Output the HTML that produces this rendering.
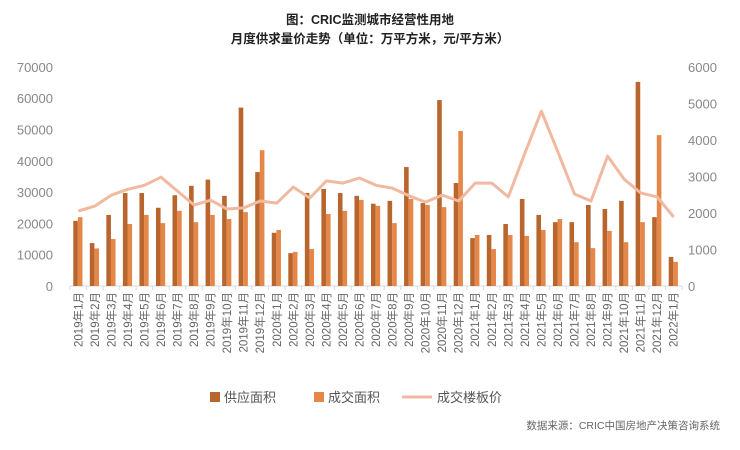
<!DOCTYPE html>
<html><head><meta charset="utf-8"><style>
body{margin:0;background:#fff;}
svg text{font-family:"Liberation Sans","Noto Sans CJK SC",sans-serif;}
</style></head><body>
<svg width="740" height="445" xmlns="http://www.w3.org/2000/svg" id="s">
<text x="370" y="24" text-anchor="middle" font-size="12.5" font-weight="bold" fill="#222">图：CRIC监测城市经营性用地</text>
<text x="370" y="43" text-anchor="middle" font-size="12.5" font-weight="bold" fill="#222">月度供求量价走势（单位：万平方米，元/平方米）</text>
<g id="g"></g>
<g font-size="13">
<rect x="210" y="392" width="10" height="10" fill="#b8652e"/><text x="224" y="402" fill="#555">供应面积</text>
<rect x="314" y="392" width="10" height="10" fill="#e6874a"/><text x="328" y="402" fill="#555">成交面积</text>
<line x1="402" y1="397" x2="432" y2="397" stroke="#f0b9a0" stroke-width="3"/><text x="437" y="402" fill="#555">成交楼板价</text>
</g>
<text x="720" y="429" text-anchor="end" font-size="10.5" fill="#666">数据来源：CRIC中国房地产决策咨询系统</text>
</svg>
<script>
const S=[20.8,13.7,22.7,29.7,29.7,25,29,32,34,28.8,57,36.4,17,10.5,29.7,31,29.7,28.8,26.3,27.2,38,26.5,59.4,32.9,15.3,16.3,19.8,27.8,22.7,20.4,20.4,25.9,24.6,27.2,65.2,22,9.3];
const C=[22,12,15,19.8,22.7,20.1,24,20.4,22.7,21.4,23.6,43.4,17.9,10.9,11.8,23,24,27.5,25.6,20.1,27.8,25.9,25.2,49.5,16.3,11.8,16.3,16,17.9,21.4,14,12.1,17.6,14,20.4,48.2,7.7];
const P=[2055,2190,2490,2650,2760,2980,2600,2220,2350,2110,2140,2330,2270,2710,2410,2880,2820,2960,2760,2680,2470,2300,2490,2330,2820,2820,2440,3640,4790,3670,2520,2330,3560,2930,2550,2440,1890];
let h='';const x0=70,w=612/37,b=286,k=31.3/10,kp=36.5/1000;
for(let i=0;i<=7;i++){const y=b-i*31.3;h+=`<text x="53" y="${y+5}" text-anchor="end" font-size="13" fill="#888">${i*10000}</text>`;}
for(let i=0;i<=6;i++){const y=b-i*36.5;h+=`<text x="688" y="${y+5}" font-size="13" fill="#888">${i*1000}</text>`;}
h+=`<line x1="${x0}" y1="${b}" x2="${x0+612}" y2="${b}" stroke="#d9d9d9"/>`;
let pts=[];
for(let i=0;i<37;i++){const cx=x0+w*(i+0.5);
h+=`<line x1="${x0+w*i}" y1="${b}" x2="${x0+w*i}" y2="${b+4}" stroke="#d9d9d9"/>`;
h+=`<rect x="${cx-5}" y="${b-S[i]*k}" width="4.6" height="${S[i]*k}" fill="#b8652e"/>`;
h+=`<rect x="${cx-0.4}" y="${b-C[i]*k}" width="4.6" height="${C[i]*k}" fill="#e6874a"/>`;
pts.push(cx.toFixed(1)+','+(b-P[i]*kp).toFixed(1));
const yr=2019+Math.floor(i/12),m=i%12+1;
h+=`<text transform="translate(${cx+4},292) rotate(-90)" text-anchor="end" font-size="11.5" fill="#666">${yr}年${m}月</text>`;}
h+=`<line x1="${x0+612}" y1="${b}" x2="${x0+612}" y2="${b+4}" stroke="#d9d9d9"/>`;
h+=`<polyline points="${pts.join(' ')}" fill="none" stroke="#f0b9a0" stroke-width="3" stroke-linejoin="round"/>`;
document.getElementById('g').innerHTML=h;
</script>
</body></html>
